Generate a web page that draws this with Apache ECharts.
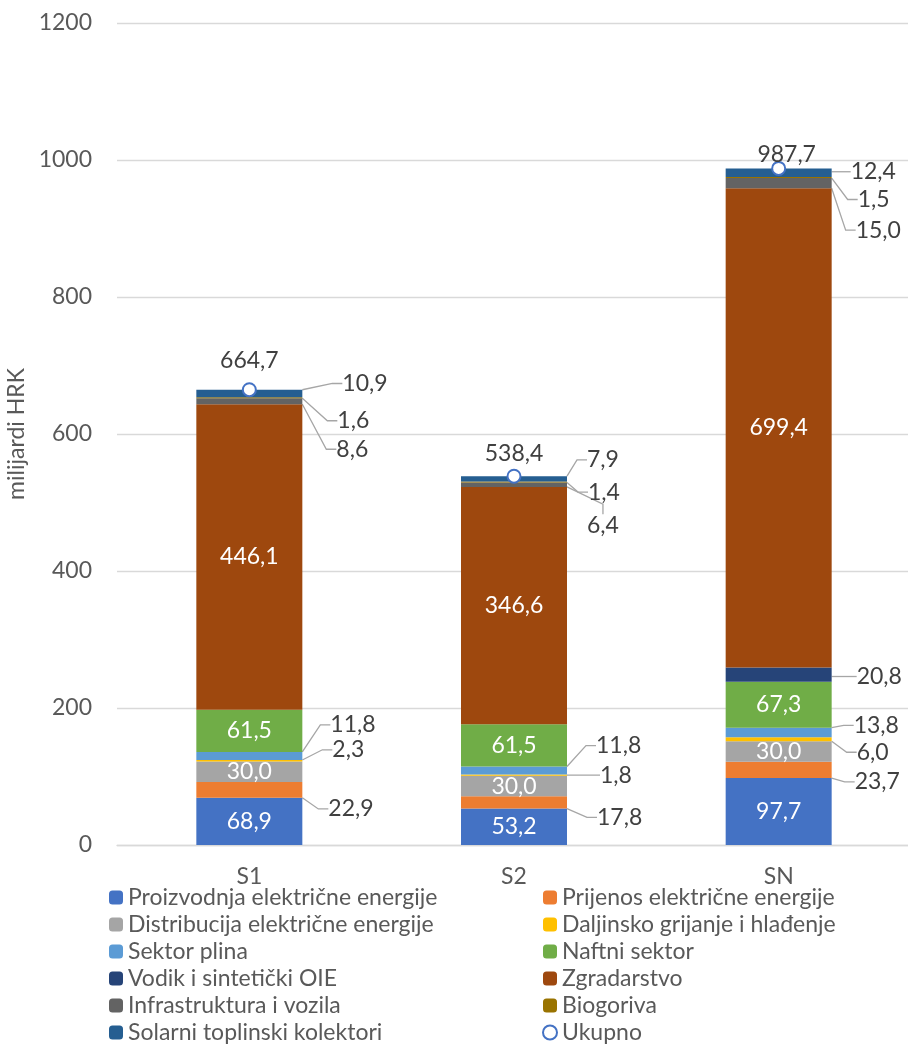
<!DOCTYPE html>
<html>
<head>
<meta charset="utf-8">
<title>Ulaganja po scenarijima</title>
<script src="https://cdn.jsdelivr.net/npm/echarts@6/dist/echarts.min.js"></script>
<style>
html,body{margin:0;padding:0;background:#fff;}
#main{width:908px;height:1046px;}
</style>
</head>
<body>
<div id="main"></div>
<script>
// podaci (milijardi HRK)
var categories=['S1','S2','SN'];
var proizvodnja=[68.9,53.2,97.7];
var prijenos=[22.9,17.8,23.7];
var distribucija=[30.0,30.0,30.0];
var daljinsko=[2.3,1.8,6.0];
var plin=[11.8,11.8,13.8];
var nafta=[61.5,61.5,67.3];
var vodik=[0,0,20.8];
var zgradarstvo=[446.1,346.6,699.4];
var infrastruktura=[8.6,6.4,15.0];
var biogoriva=[1.6,1.4,1.5];
var solarni=[10.9,7.9,12.4];
var ukupno=[664.7,538.4,987.7];
var yMin=0,yMax=1200,yStep=200;

var FONT='Lato';
var FS=23;
var stack=[
	{name:'Proizvodnja električne energije',data:proizvodnja,color:'#4472C4',inside:true},
	{name:'Prijenos električne energije',data:prijenos,color:'#ED7D31'},
	{name:'Distribucija električne energije',data:distribucija,color:'#A5A5A5',inside:true},
	{name:'Daljinsko grijanje i hlađenje',data:daljinsko,color:'#FFC000'},
	{name:'Sektor plina',data:plin,color:'#5B9BD5'},
	{name:'Naftni sektor',data:nafta,color:'#70AD47',inside:true},
	{name:'Vodik i sintetički OIE',data:vodik,color:'#264478'},
	{name:'Zgradarstvo',data:zgradarstvo,color:'#9E480E',inside:true},
	{name:'Infrastruktura i vozila',data:infrastruktura,color:'#636363'},
	{name:'Biogoriva',data:biogoriva,color:'#997300'},
	{name:'Solarni toplinski kolektori',data:solarni,color:'#255E91'}
];

// pomaci vanjskih oznaka [dx,dy] po kategoriji
var labelPos={
	'Prijenos električne energije':[[26,19],[30,15],[23,12]],
	'Daljinsko grijanje i hlađenje':[[30,-11],[33,0],[25,13]],
	'Sektor plina':[[28,-31],[29,-25],[22,-7]],
	'Vodik i sintetički OIE':[[25,2],[25,2],[25,2]],
	'Infrastruktura i vozila':[[34,48],[20,41],[24,47]],
	'Biogoriva':[[35,23],[21,10],[26,22]],
	'Solarni toplinski kolektori':[[40,-10],[20,-19],[19,-1]]
};
var totalPos=[[0,-5],[0,1],[8,10]];

function fmt(v){
	return v.toFixed(1).replace('.',',');
}
function extend(a,b){
	var r={},k;
	for(k in b) r[k]=b[k];
	for(k in a) r[k]=a[k];
	return r;
}

var series=[];
for(var i=0;i<stack.length;i++){
	(function(s){
		var items=[];
		for(var j=0;j<s.data.length;j++){
			var it={value:s.data[j]};
			if(s.data[j]==0){
				it.label={show:false};
				it.labelLine={show:false};
			}
			items.push(it);
		}
		var ser={
			name:s.name,
			type:'bar',
			stack:'uk',
			barWidth:106,
			data:items,
			itemStyle:{color:s.color},
			emphasis:{disabled:true}
		};
		if(s.inside){
			ser.label={show:true,position:'inside',color:'#fff',fontSize:FS,fontFamily:FONT,
				formatter:function(p){return fmt(p.value);}};
		}else{
			ser.label={show:true,position:'right',distance:0,color:'#404040',fontSize:FS,fontFamily:FONT,
				formatter:function(p){return fmt(p.value);}};
			ser.labelLine={show:true,length2:10,lineStyle:{color:'#A6A6A6',width:1.3}};
			ser.labelLayout=function(p){
				var o=labelPos[s.name][p.dataIndex];
				return {dx:o[0],dy:o[1]};
			};
		}
		series.push(ser);
	})(stack[i]);
}

series.push({
	name:'Ukupno',
	type:'scatter',
	data:ukupno,
	symbol:'circle',
	symbolSize:13,
	z:5,
	itemStyle:{color:'#fff',borderColor:'#4472C4',borderWidth:2,opacity:1},
	label:{show:true,position:'top',distance:5,color:'#404040',fontSize:FS,fontFamily:FONT,opacity:1,
		formatter:function(p){return fmt(p.value);}},
	labelLayout:function(p){
		var o=totalPos[p.dataIndex];
		return {dx:o[0],dy:o[1]};
	},
	emphasis:{disabled:true}
});

var legendStyle={orient:'vertical',itemWidth:14,itemHeight:14,itemGap:0,top:884,height:200,padding:0,selectedMode:false,
	textStyle:{color:'#595959',fontSize:FS,fontFamily:FONT,lineHeight:27}};

var option={
	animation:false,
	textStyle:{fontFamily:FONT},
	grid:{left:117,top:23,width:794,height:822,outerBoundsMode:'none'},
	legend:[
		extend({left:109,data:[stack[0].name,stack[2].name,stack[4].name,stack[6].name,stack[8].name,stack[10].name]},legendStyle),
		extend({left:542,data:[stack[1].name,stack[3].name,stack[5].name,stack[7].name,stack[9].name,
			{name:'Ukupno',icon:'circle',itemStyle:{color:'#fff',borderColor:'#4472C4',borderWidth:2}}]},legendStyle)
	],
	xAxis:{
		type:'category',
		data:categories,
		axisLine:{lineStyle:{color:'#D9D9D9',width:1.3}},
		axisTick:{show:false},
		axisLabel:{color:'#595959',fontSize:FS,margin:20,fontFamily:FONT}
	},
	yAxis:{
		type:'value',
		min:yMin,max:yMax,interval:yStep,
		name:'milijardi HRK',
		nameLocation:'middle',
		nameRotate:90,
		nameGap:86,
		nameTextStyle:{color:'#595959',fontSize:FS,fontFamily:FONT},
		axisLine:{show:false},
		axisTick:{show:false},
		axisLabel:{color:'#595959',fontSize:FS,margin:25,fontFamily:FONT,
			formatter:function(v){return String(v);}},
		splitLine:{lineStyle:{color:'#D9D9D9',width:1.3}}
	},
	series:series
};

var myChart=echarts.init(document.getElementById('main'));
myChart.setOption(option);
</script>
</body>
</html>
